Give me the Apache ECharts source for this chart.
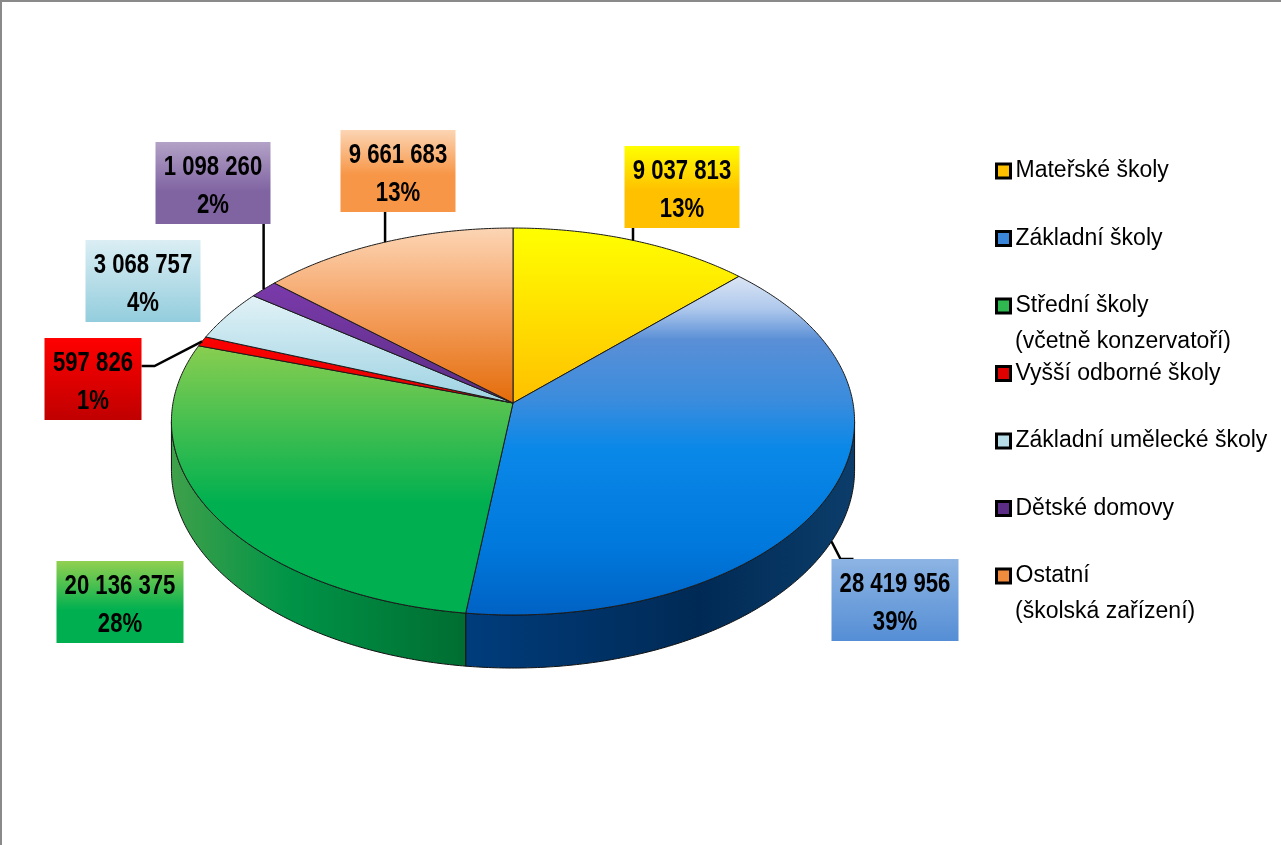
<!DOCTYPE html>
<html>
<head>
<meta charset="utf-8">
<script src="https://cdn.jsdelivr.net/npm/echarts@6/dist/echarts.min.js"></script>
<style>
html, body { margin: 0; padding: 0; background: #fff; }
#chart { width: 1281px; height: 845px; }
</style>
</head>
<body>
<div id="chart"></div>
<script>
// kategorie a hodnoty
const names = [
	"Mateřské školy",
	"Základní školy",
	"Střední školy\n(včetně konzervatoří)",
	"Vyšší odborné školy",
	"Základní umělecké školy",
	"Dětské domovy",
	"Ostatní\n(školská zařízení)",
];
const values = [9037813, 28419956, 20136375, 597826, 3068757, 1098260, 9661683];

// barvy (legenda, horní plocha, bok, popisky)
const legendColors = ["#ffc000", "#3a86db", "#2fb850", "#e00000", "#b7dde8", "#5b2d86", "#f08a3c"];
const topFills = [
	[228, 403, [[0, "#ffff00"], [1, "#ffc000"]]],
	[275, 615, [[0, "#dde7f5"], [0.1, "#aec8ec"], [0.19, "#5a8fd6"], [0.37, "#3a8cdd"], [0.51, "#0a88e8"], [0.8, "#0078dc"], [1, "#0062c4"]]],
	[335, 615, [[0, "#92d050"], [0.6, "#00b050"], [1, "#00b050"]]],
	[330, 403, [[0, "#ff0000"], [1, "#e00000"]]],
	[295, 403, [[0, "#e2f2f7"], [1, "#9dd2e2"]]],
	[285, 403, [[0, "#7a3aaa"], [1, "#5c2d85"]]],
	[228, 403, [[0, "#fcd5b4"], [0.45, "#f5a365"], [1, "#e46c0a"]]],
];
const wallFills = [
	[[0, "#c09000"], [1, "#a07000"]],
	[[0, "#003c7c"], [0.6, "#002a55"], [1, "#0c3d6a"]],
	[[0, "#3fa04a"], [0.4, "#009447"], [1, "#006d31"]],
	[[0, "#a00000"], [1, "#800000"]],
	[[0, "#7fb5c4"], [1, "#6a9fae"]],
	[[0, "#40205e"], [1, "#301848"]],
	[[0, "#b05000"], [1, "#904000"]],
];
const boxFills = [
	[[0, "#ffff00"], [0.55, "#ffc000"], [1, "#ffc000"]],
	[[0, "#8db4e3"], [1, "#558ed5"]],
	[[0, "#92d050"], [0.6, "#00b050"], [1, "#00b050"]],
	[[0, "#ff0000"], [1, "#c00000"]],
	[[0, "#dbeef4"], [1, "#93cddd"]],
	[[0, "#b3a2c7"], [0.6, "#8064a2"], [1, "#8064a2"]],
	[[0, "#fcd5b4"], [0.55, "#f79646"], [1, "#f79646"]],
];
// rozmístění popisků (středy rámečků) a odkazové čáry
const labelCenters = [[682, 187], [895, 600], [120, 602], [93, 379], [143, 281], [213, 183], [398, 171]];
const showLeader = [true, true, false, true, false, true, true];

// geometrie 3D koláče (perspektiva)
const CX = 513, CY = 403, RX = 340, RY = 191.7, K = 0.0956, D = 48;
const T1 = Math.acos(-K), T2 = 2 * Math.PI - T1;

const total = values.reduce((a, b) => a + b, 0);
const cum = [0];
values.forEach((v, i) => cum.push(cum[i] + v));

// úzké tučné písmo: Liberation Sans Bold zúžené
const labelFont = "'Liberation Sans', sans-serif";
const NARROW = 0.82;
const ctx = document.createElement("canvas").getContext("2d");
ctx.font = "bold 27px " + labelFont;

function proj(t, bottom) {
	const u = Math.sin(t), v = -Math.cos(t), s = 1 / (1 - K * v);
	return [CX + RX * u * s, CY + RY * v * s + (bottom ? D * s : 0)];
}
function arc(a, b) {
	const n = Math.max(2, Math.ceil(Math.abs(b - a) / (Math.PI / 360)));
	const out = [];
	for (let k = 0; k <= n; k++) out.push(a + (b - a) * k / n);
	return out;
}
function grad(x, y, x2, y2, stops) {
	return new echarts.graphic.LinearGradient(x, y, x2, y2,
		stops.map(s => ({ offset: s[0], color: s[1] })), true);
}
function fmt(v) {
	return String(v).replace(/\B(?=(\d{3})+(?!\d))/g, " ");
}
const clamp = (x, a, b) => Math.min(b, Math.max(a, x));

function renderSlice(params, api) {
	const i = api.value(0);
	const a0 = cum[i] / total * 2 * Math.PI;
	const a1 = cum[i + 1] / total * 2 * Math.PI;
	const children = [];

	// bok
	const w0 = Math.max(a0, T1), w1 = Math.min(a1, T2);
	if (w1 > w0) {
		const pts = arc(w0, w1).map(t => proj(t, false))
			.concat(arc(w1, w0).map(t => proj(t, true)));
		const xs = pts.map(p => p[0]);
		children.push({
			type: "polygon",
			shape: { points: pts },
			style: { fill: grad(Math.min(...xs), 0, Math.max(...xs), 0, wallFills[i]), stroke: "#111", lineWidth: 1 },
		});
	}
	// horní plocha
	const top = [[CX, CY]].concat(arc(a0, a1).map(t => proj(t, false)));
	const tf = topFills[i];
	children.push({
		type: "polygon",
		shape: { points: top },
		style: { fill: grad(0, tf[0], 0, tf[1], tf[2]), stroke: "#1a1a1a", lineWidth: 1 },
	});

	// popisek
	const mid = (a0 + a1) / 2;
	const edge = proj(mid, mid > T1 && mid < T2);
	const txt1 = fmt(values[i]);
	const txt2 = Math.round(values[i] / total * 100) + "%";
	const tw = Math.max(ctx.measureText(txt1).width, ctx.measureText(txt2).width) * NARROW;
	const w = Math.ceil(tw) + 16;
	const [cx, cy] = labelCenters[i];
	const bx0 = cx - w / 2, bx1 = cx + w / 2, by0 = cy - 41, by1 = cy + 41;
	if (showLeader[i]) {
		let pts;
		if (edge[0] < bx0 - 8 || edge[0] > bx1 + 8) {
			const side = edge[0] > bx1 ? bx1 : bx0, dir = edge[0] > bx1 ? 1 : -1;
			const ay = clamp(edge[1], by0 + 28, by1 - 28);
			pts = [edge, [side + 13 * dir, ay], [side, ay]];
		} else if (edge[1] > by1) {
			pts = [edge, [edge[0], by1]];
		} else {
			const ax = clamp(edge[0] + 12, bx0, bx1);
			pts = [edge, [ax - 3, by0], [ax + 10, by0]];
		}
		children.push({ type: "polyline", shape: { points: pts }, style: { stroke: "#000", lineWidth: 2.5, fill: null } });
	}
	children.push({
		type: "rect",
		shape: { x: bx0, y: by0, width: w, height: 82 },
		style: { fill: grad(0, by0, 0, by1, boxFills[i]) },
	});
	children.push({
		type: "text",
		x: cx, y: cy + 4,
		scaleX: NARROW,
		style: {
			text: txt1 + "\n" + txt2,
			x: 0, y: 0,
			align: "center", verticalAlign: "middle",
			fontSize: 27, fontWeight: "bold", fontFamily: labelFont,
			lineHeight: 38, fill: "#000",
		},
	});
	return { type: "group", children };
}

let chart = echarts.init(document.getElementById("chart"));

const LEG_TOP = 153, LEG_STEP = 67.5, LEG_LH = 36;
const extraLines = [];
names.forEach((n, i) => {
	const parts = n.split("\n");
	if (parts.length > 1) {
		extraLines.push({
			type: "text",
			left: 1015,
			top: LEG_TOP + i * LEG_STEP + LEG_LH,
			style: { text: parts[1], fontSize: 23, fontFamily: "'Liberation Sans', sans-serif", fill: "#000", lineHeight: LEG_LH },
		});
	}
});

let option = {
	animation: false,
	legend: {
		orient: "vertical",
		left: 995,
		top: LEG_TOP,
		padding: 0,
		itemWidth: 14,
		itemHeight: 14,
		itemGap: LEG_STEP - LEG_LH,
		icon: "rect",
		selectedMode: false,
		data: names,
		formatter: n => n.split("\n")[0],
		itemStyle: { borderColor: "#000", borderWidth: 3 },
		textStyle: { fontSize: 23, fontFamily: "'Liberation Sans', sans-serif", color: "#000", lineHeight: LEG_LH },
	},
	graphic: [
		{ type: "rect", shape: { x: 1, y: 1, width: 1300, height: 900 }, style: { fill: null, stroke: "#8a8a8a", lineWidth: 2 }, silent: true },
	].concat(extraLines),
	series: names.map((n, i) => ({
		name: n,
		type: "custom",
		coordinateSystem: "none",
		renderItem: renderSlice,
		itemStyle: { color: legendColors[i] },
		data: [[i]],
	})),
};

chart.setOption(option);
</script>
</body>
</html>
